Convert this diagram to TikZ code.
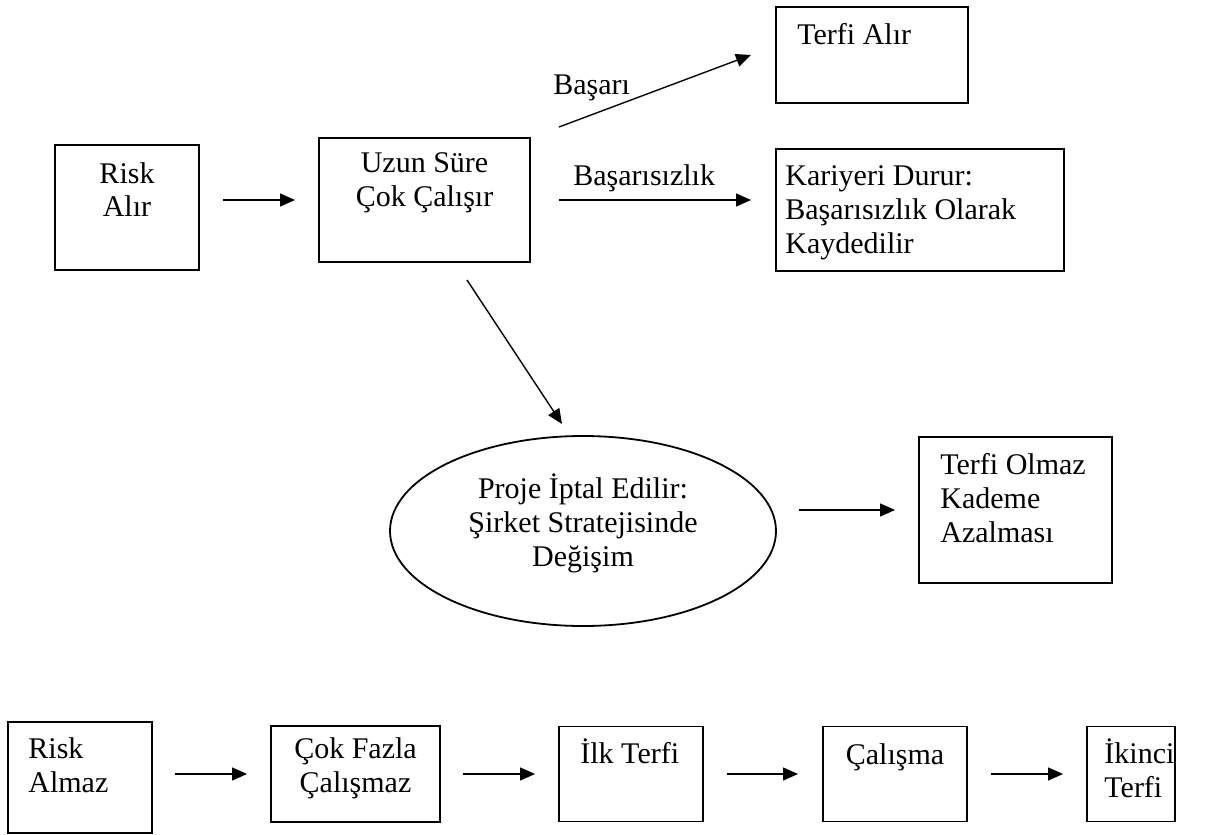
\documentclass[tikz,border=0pt]{standalone}
\usepackage{fontspec}
\setmainfont{Liberation Serif}
\usepackage{tikz}
\usetikzlibrary{arrows.meta,positioning,shapes.geometric}

\begin{document}
\begin{tikzpicture}[
  x=0.5pt,y=-0.5pt,
  box/.style={draw,line width=0.9pt,inner sep=0pt,outer sep=0pt},
  oval/.style={ellipse,draw,line width=0.9pt,inner sep=0pt,outer sep=0pt},
  txt/.style={font={\fontsize{15}{16.8}\selectfont},inner sep=0pt},
  arrow/.style={-{Triangle[length=7.5pt,width=6.5pt]},line width=0.7pt,
    shorten <=11.5pt,shorten >=12pt}
]
\useasboundingbox (0,0) rectangle (1208,834);

% upper part
\node[box,minimum width=72pt,minimum height=62.5pt] (riskalir) at (127,207.5) {};
\node[box,minimum width=105.5pt,minimum height=62pt] (uzun) at (424.5,200) {};
\node[box,minimum width=96pt,minimum height=48pt] (terfialir) at (872,55) {};
\node[box,minimum width=144pt,minimum height=61pt] (kariyeri) at (920,210) {};
\node[oval,minimum width=193pt,minimum height=95pt] (proje) at (583,531) {};
\node[box,minimum width=96.5pt,minimum height=73pt] (terfiolmaz) at (1015.5,510) {};

% text sits on the baseline of its last line
\node[txt,align=center,below=36pt of riskalir.north,anchor=base] (riskalirtxt) {Risk\\Alır};
\node[txt,align=center,below=34pt of uzun.north,anchor=base] (uzuntxt) {Uzun Süre\\Çok Çalışır};
\node[txt,below right=19pt and 10.5pt of terfialir.north west,anchor=base west] (terfialirtxt) {Terfi Alır};
\node[txt,align=left,below right=52pt and 4.5pt of kariyeri.north west,anchor=base west] (kariyeritxt)
  {Kariyeri Durur:\\Başarısızlık Olarak\\Kaydedilir};
\node[txt,align=center,below=65pt of proje.north,anchor=base] (projetxt)
  {Proje İptal Edilir:\\Şirket Stratejisinde\\Değişim};
\node[txt,align=left,below right=52.5pt and 10.5pt of terfiolmaz.north west,anchor=base west] (terfiolmaztxt)
  {Terfi Olmaz\\Kademe\\Azalması};

\node[txt,anchor=base west] (basari) at (553,95) {Başarı};
\node[txt,anchor=base west] (basarisiz) at (573,185) {Başarısızlık};

\draw[arrow,shorten <=12pt] (riskalir.east |- uzun.west) -- (uzun.west);
\draw[arrow,shorten <=0pt,shorten >=0pt] ([shift={(29,-73)}]uzun.east) -- ([shift={(-25,0)}]terfialir.west);
\draw[arrow,shorten <=14.5pt,shorten >=12.5pt] (uzun.east) -- (uzun.east -| kariyeri.west);
\draw[arrow,shorten <=0pt,shorten >=0pt] ([shift={(42.5,18)}]uzun.south) -- ([shift={(-21,-12)}]proje.north);
\draw[arrow] (proje.east |- terfiolmaz.west) -- (terfiolmaz.west);

% lower row
\node[box,minimum width=72pt,minimum height=55.5pt] (riskalmaz) at (80,777.5) {};
\node[box,minimum width=84.5pt,minimum height=48pt,right=59.5pt of riskalmaz,yshift=1.75pt] (cokfazla) {};
\node[box,minimum width=72pt,minimum height=47.5pt,right=59.5pt of cokfazla] (ilkterfi) {};
\node[box,minimum width=72pt,minimum height=47.5pt,right=60pt of ilkterfi] (calisma) {};
\node[box,minimum width=44pt,minimum height=47.5pt,right=60pt of calisma] (ikinci) {};

\node[txt,align=left,below right=35pt and 10pt of riskalmaz.north west,anchor=base west] (riskalmaztxt) {Risk\\Almaz};
\node[txt,align=center,below=33pt of cokfazla.north,anchor=base] (cokfazlatxt) {Çok Fazla\\Çalışmaz};
\node[txt,below right=18.5pt and 10.5pt of ilkterfi.north west,anchor=base west] (ilkterfitxt) {İlk Terfi};
\node[txt,below=19pt of calisma.north,anchor=base] (calismatxt) {Çalışma};
\node[txt,align=left,below right=35.5pt and 8.5pt of ikinci.north west,anchor=base west] (ikincitxt) {İkinci\\Terfi};

\draw[arrow] (riskalmaz.east |- cokfazla.west) -- (cokfazla.west);
\draw[arrow] (cokfazla) -- (ilkterfi);
\draw[arrow,shorten <=12pt,shorten >=12.5pt] (ilkterfi) -- (calisma);
\draw[arrow,shorten <=12pt] (calisma) -- (ikinci);
\end{tikzpicture}
\end{document}
